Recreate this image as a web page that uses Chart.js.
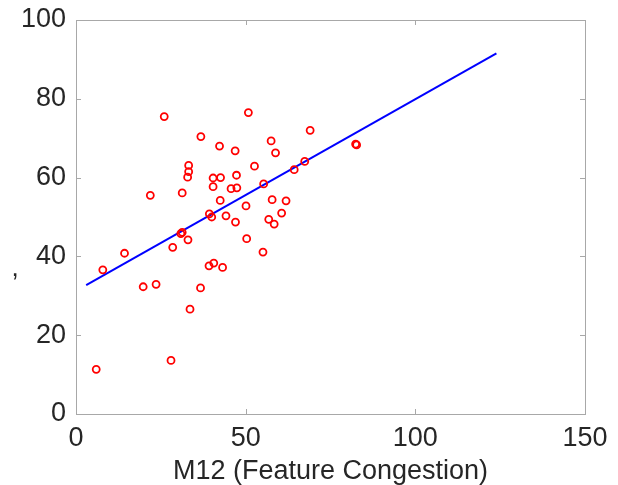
<!DOCTYPE html>
<html>
<head>
<meta charset="utf-8">
<script src="https://cdn.jsdelivr.net/npm/chart.js@4"></script>
<style>
  html, body { margin: 0; padding: 0; background: #fff; }
  #wrap { width: 618px; height: 485px; }
</style>
</head>
<body>
<div id="wrap"><canvas id="c" width="618" height="485"></canvas></div>
<script>
// valeurs
const m12 = [5.96, 7.9, 14.3, 19.8, 21.9, 23.6, 26.0, 28.0, 28.5, 30.9, 31.3, 31.3, 33.0, 32.9, 33.2, 33.2, 33.6,
  36.7, 36.8, 39.2, 39.3, 40.0, 40.6, 40.4, 40.4, 42.3, 42.5, 42.6, 43.2, 44.2, 45.7, 46.9, 47.0, 47.3, 47.4,
  50.1, 50.3, 50.8, 52.6, 55.1, 55.3, 56.8, 57.5, 57.8, 58.4, 58.8, 60.6, 61.9, 64.3, 67.4, 69.0, 82.4, 82.7];
const scores = [11.35, 36.6, 40.8, 32.3, 55.5, 32.9, 75.5, 13.6, 42.3, 45.8, 46.1, 56.1, 44.2, 60.1, 61.5, 63.1, 26.6,
  32.0, 70.4, 37.6, 50.8, 50.0, 38.3, 57.7, 59.9, 68.0, 54.2, 60.0, 37.2, 50.3, 57.2, 66.8, 48.7, 60.6, 57.4,
  52.8, 44.5, 76.5, 62.9, 41.1, 58.4, 49.4, 69.3, 54.4, 48.2, 66.3, 51.0, 54.1, 62.0, 64.1, 72.0, 68.5, 68.3];
const fitX = [3.0, 123.9];
const fitY = [32.7, 91.5];
const xTicks = [0, 50, 100, 150];
const yTicks = [0, 20, 40, 60, 80, 100];

const points = m12.map((v, i) => ({ x: v, y: scores[i] }));
const fitLine = fitX.map((v, i) => ({ x: v, y: fitY[i] }));

const textColor = '#262626';
const axisColor = '#a8a8a8';

// cadre + petites graduations vers l'intérieur (style matlab)
const boxPlugin = {
  id: 'box',
  afterDatasetsDraw(chart) {
    const { ctx, chartArea: a, scales } = chart;
    ctx.save();
    ctx.strokeStyle = axisColor;
    ctx.lineWidth = 1;
    ctx.strokeRect(a.left + 0.5, a.top + 0.5, a.right - a.left, a.bottom - a.top);
    const len = 5;
    ctx.beginPath();
    xTicks.forEach(t => {
      const px = Math.round(scales.x.getPixelForValue(t)) + 0.5;
      ctx.moveTo(px, a.bottom); ctx.lineTo(px, a.bottom - len);
      ctx.moveTo(px, a.top); ctx.lineTo(px, a.top + len);
    });
    yTicks.forEach(t => {
      const py = Math.round(scales.y.getPixelForValue(t)) + 0.5;
      ctx.moveTo(a.left, py); ctx.lineTo(a.left + len, py);
      ctx.moveTo(a.right, py); ctx.lineTo(a.right - len, py);
    });
    ctx.stroke();
    // le petit signe à gauche (étiquette y)
    ctx.fillStyle = textColor;
    ctx.font = '26px "Liberation Sans"';
    ctx.textAlign = 'center';
    ctx.textBaseline = 'alphabetic';
    ctx.fillText(',', 15, 276);
    ctx.restore();
  }
};

new Chart(document.getElementById('c'), {
  type: 'scatter',
  data: {
    datasets: [{
      label: 'obs',
      data: points,
      showLine: false,
      pointStyle: 'circle',
      pointRadius: 3.5,
      pointBorderWidth: 1.8,
      pointBorderColor: '#ff0000',
      pointBackgroundColor: 'rgba(0,0,0,0)',
      order: 1
    }, {
      label: 'fit',
      data: fitLine,
      showLine: true,
      borderColor: '#0000ff',
      borderWidth: 2,
      pointRadius: 0,
      order: 2
    }]
  },
  options: {
    responsive: false,
    animation: false,
    layout: { padding: { top: 20, right: 33, left: 0, bottom: 0 } },
    plugins: { legend: { display: false }, tooltip: { enabled: false } },
    scales: {
      x: {
        type: 'linear', min: 0, max: 150,
        afterBuildTicks: s => { s.ticks = xTicks.map(v => ({ value: v })); },
        afterFit: s => { s.height = 71; s.paddingLeft = 0; s.paddingRight = 0; },
        grid: { display: false, drawTicks: false },
        border: { display: false },
        ticks: { color: textColor, padding: 8, font: { family: 'Liberation Sans', size: 27 } },
        title: {
          display: true, text: 'M12 (Feature Congestion)', color: textColor,
          font: { family: 'Liberation Sans', size: 27, lineHeight: 1 }, padding: { top: 0, bottom: 0 }
        }
      },
      y: {
        type: 'linear', min: 0, max: 100,
        afterBuildTicks: s => { s.ticks = yTicks.map(v => ({ value: v })); },
        afterFit: s => { s.width = 76; s.paddingTop = 0; s.paddingBottom = 0; },
        grid: { display: false, drawTicks: false },
        border: { display: false },
        ticks: { color: textColor, padding: 10, font: { family: 'Liberation Sans', size: 27 } }
      }
    }
  },
  plugins: [boxPlugin]
});
</script>
</body>
</html>
